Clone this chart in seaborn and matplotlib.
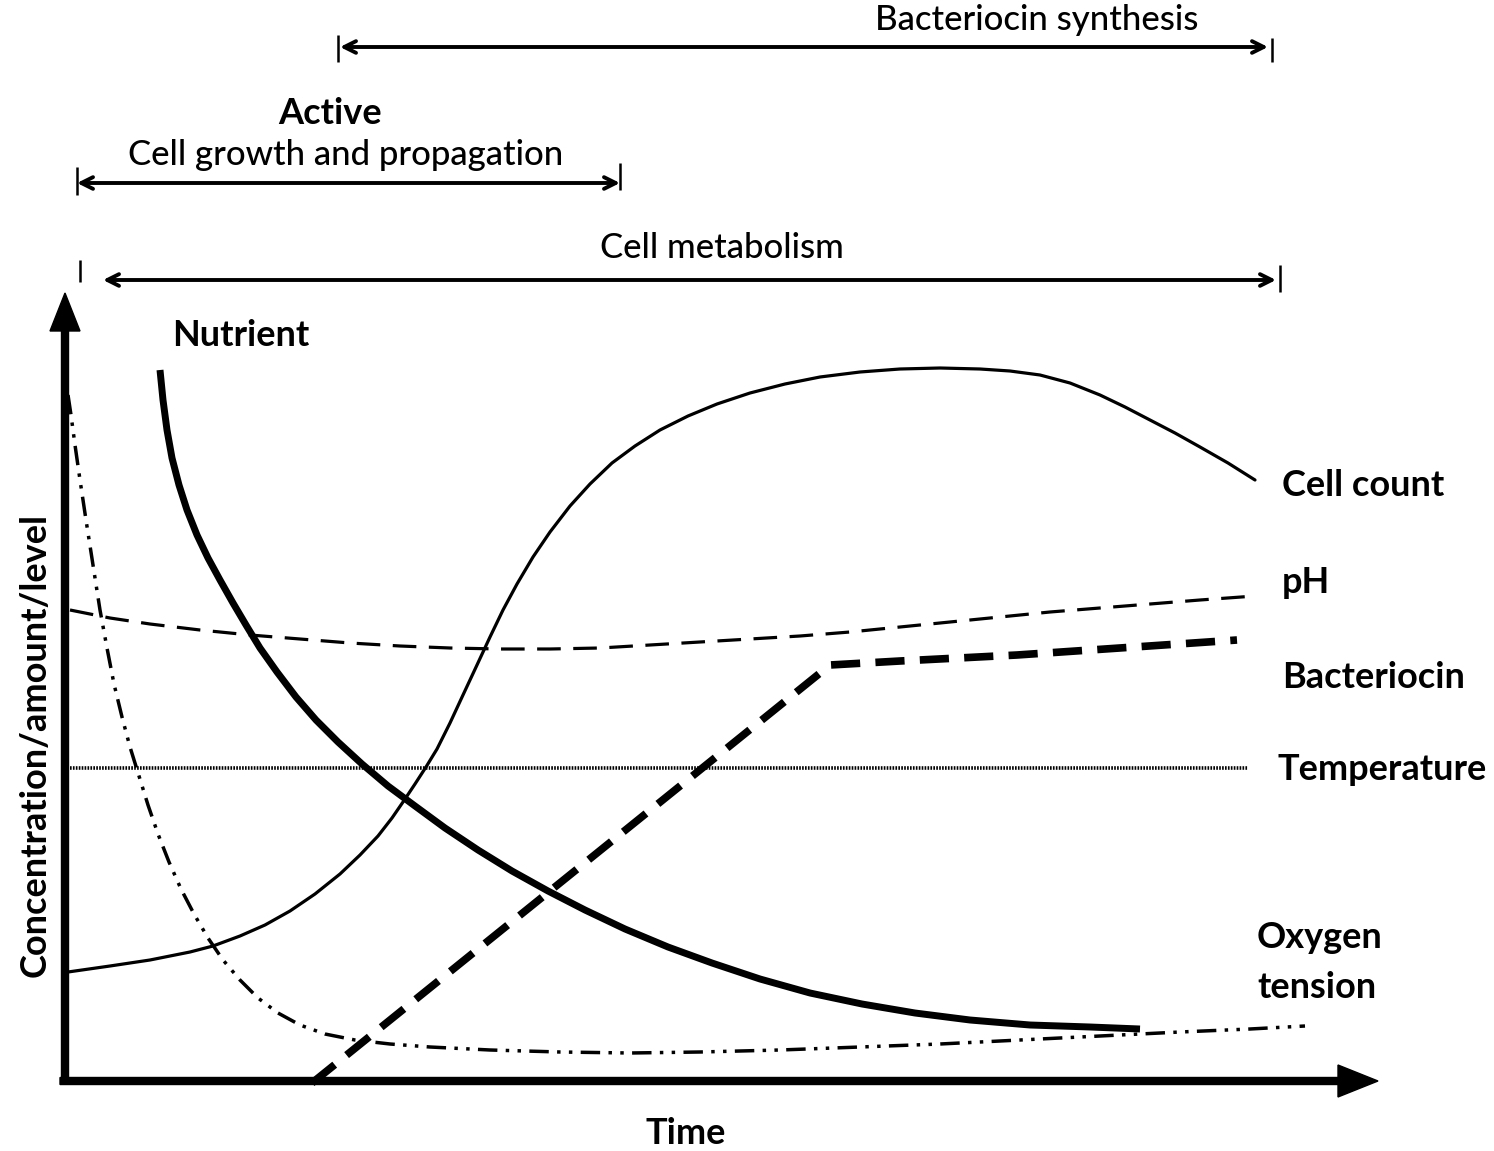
import numpy as np
import pandas as pd
import matplotlib
matplotlib.use("Agg")
import matplotlib.pyplot as plt
import seaborn as sns

sns.set_theme(style="white")
plt.rcParams['font.family'] = ['Lato', 'DejaVu Sans']
plt.rcParams['lines.scale_dashes'] = False
plt.rcParams['text.color'] = 'black'

# ---- curve data (time, level) read from the schematic ----
cell_time = [3, 45, 85, 125, 148, 175, 200, 225, 250, 275, 295, 313, 327, 338, 350, 361, 372,
             385, 398, 412, 425, 438, 452, 468, 485, 505, 525, 547, 570, 595, 623, 652, 685,
             720, 755, 795, 835, 875, 915, 945, 975, 1005, 1035, 1060, 1085, 1110, 1135,
             1163, 1190]
cell_level = [109, 115, 121, 129, 135, 145, 156, 170, 187, 207, 226, 245, 263, 279, 297, 314,
              332, 358, 386, 416, 444, 471, 497, 524, 549, 575, 597, 618, 635, 651, 665, 677,
              688, 697, 704, 709, 712, 713, 712, 710, 706, 698, 686, 674, 661, 648, 634,
              618, 601]

nutrient_time = [95, 98, 102, 107, 114, 122, 132, 143, 155, 168, 181, 195, 212, 231, 251, 273,
                 297, 323, 350, 380, 413, 447, 483, 520, 560, 603, 647, 695, 745, 797, 850,
                 905, 965, 1025, 1075]
nutrient_level = [711, 681, 651, 623, 596, 571, 546, 523, 501, 478, 456, 433, 409, 384, 361,
                  339, 317, 295, 275, 253, 231, 210, 190, 171, 152, 134, 118, 102, 88, 77, 68,
                  61, 56, 54, 52]

ph_time = [5, 45, 85, 135, 185, 235, 285, 335, 385, 435, 485, 535, 585, 635, 685, 735, 785,
           835, 885, 935, 985, 1035, 1085, 1135, 1190]
ph_level = [471, 463, 457, 451, 446, 442, 438, 435, 433, 432, 432, 433, 436, 439, 442, 445,
            449, 454, 459, 464, 469, 473, 477, 481, 485]

bacteriocin_time = [247, 765, 835, 952, 1172]
bacteriocin_level = [-2, 416, 420, 426, 441]

temperature_time = [5, 1183]
temperature_level = [313, 313]

oxygen_time = [3, 6, 10, 15, 21, 28, 35, 42, 49, 57, 65, 74, 83, 93, 104, 116, 129, 143, 158,
               175, 193, 213, 235, 260, 290, 325, 365, 425, 495, 565, 635, 715, 795, 875,
               955, 1035, 1115, 1185, 1240]
oxygen_level = [686, 666, 636, 601, 561, 516, 471, 433, 397, 364, 334, 305, 276, 247, 219,
                192, 167, 143, 121, 101, 83, 68, 56, 47, 41, 37, 34, 31, 29, 28, 29, 31, 34,
                37, 41, 45, 49, 52, 55]

# phase spans: (start, end, level)
span_names = ["Bacteriocin synthesis", "Cell growth", "Cell metabolism"]
span_start = [275, 12, 38]
span_end = [1203, 555, 1211]
span_level = [1034, 898, 801]

fig = plt.figure(figsize=(14.94, 11.51), dpi=100)
ax = fig.add_axes([0, 0, 1, 1])
ax.set_xlim(-65, 1429)
ax.set_ylim(-70, 1081)
ax.axis("off")

def curve(t, l, **kw):
    df = pd.DataFrame({"time": t, "level": l})
    sns.lineplot(data=df, x="time", y="level", ax=ax, sort=False, estimator=None,
                 color="black", legend=False, **kw)

curve(oxygen_time, oxygen_level, linewidth=2.5,
      linestyle=(0, (14, 6, 2.5, 6, 2.5, 6)))
curve(temperature_time, temperature_level, linewidth=2.6, linestyle=(0, (1.2, 0.9)))
curve(ph_time, ph_level, linewidth=2.3, linestyle=(0, (17, 9)))
curve(bacteriocin_time, bacteriocin_level, linewidth=5.5, linestyle=(0, (21, 11)))
curve(cell_time, cell_level, linewidth=2.3)
curve(nutrient_time, nutrient_level, linewidth=5.0, solid_capstyle="butt")

# axes arrows
ax.arrow(0, -2, 0, 790, width=7, head_width=30, head_length=38,
         length_includes_head=True, color="black", zorder=5)
ax.arrow(-5, 0, 1318, 0, width=7, head_width=32, head_length=40,
         length_includes_head=True, color="black", zorder=5)

# phase span arrows
for s, e, lv in zip(span_start, span_end, span_level):
    ax.annotate("", xy=(e, lv), xytext=(s, lv),
                arrowprops=dict(arrowstyle="<->,head_length=0.7,head_width=0.35",
                                lw=2.8, color="black", shrinkA=0, shrinkB=0))

# end ticks of the spans
tick_x = [273, 1207, 12, 555, 15, 1215]
tick_lo = [1019, 1019, 886, 891, 799, 789]
tick_hi = [1046, 1043, 914, 918, 821, 816]
ax.vlines(tick_x, tick_lo, tick_hi, color="black", lw=1.8)

# texts
reg = dict(ha="center", va="center", fontsize=25, color="black", fontweight="medium")
bold = dict(va="center", fontsize=26, color="black", fontweight="bold")
ax.text(972, 1061, "Bacteriocin synthesis", **reg)
ax.text(265, 968, "Active", ha="center", **bold)
ax.text(281, 926, "Cell growth and propagation", **reg)
ax.text(657, 833, "Cell metabolism", **reg)
ax.text(107, 746, "Nutrient", ha="left", **bold)
ax.text(1217, 596, "Cell count", ha="left", **bold)
ax.text(1217, 499, "pH", ha="left", **bold)
ax.text(1217, 403, "Bacteriocin", ha="left", **bold)
ax.text(1213, 311, "Temperature", ha="left", **bold)
ax.text(1192, 144, "Oxygen", ha="left", **bold)
ax.text(1192, 94, "tension", ha="left", **bold)
ax.text(621, -52, "Time", ha="center", **bold)
ax.text(-30, 336, "Concentration/amount/level", ha="center", rotation=90, **bold)

fig.savefig("out.png", dpi=100, facecolor="white")
